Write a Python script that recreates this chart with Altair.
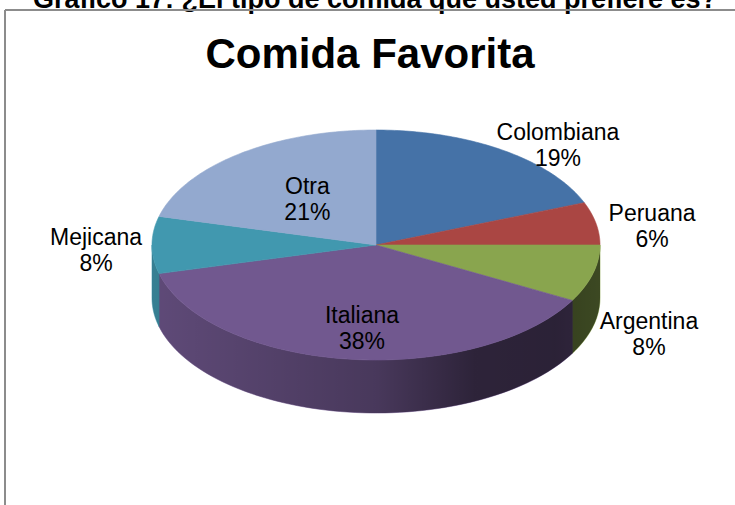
import altair as alt
import pandas as pd

# ---- data ----
categories = ["Colombiana", "Peruana", "Argentina", "Italiana", "Mejicana", "Otra"]
values = [19, 6, 8, 38, 8, 21]
chart_title = ["Comida Favorita"]
caption = ["Gráfico 17: ¿El tipo de comida que usted prefiere es?"]

top_colors = ["#4572A7", "#AA4643", "#89A54E", "#71588F", "#4198AF", "#93A9CF"]

W, H = 735, 505
CX, CY, RX, RY = 376, 245, 224, 115   # ellipse centre / radii in pixels
DEPTH = 53 / RY                        # pie thickness in y units
N = 72                                 # points per arc edge

df = pd.DataFrame({"cat": categories, "value": values, "idx": list(range(len(categories)))})

xs = alt.Scale(domain=[-CX / RX, (W - CX) / RX], nice=False, zero=False)
ys = alt.Scale(domain=[(CY - H) / RY, CY / RY], nice=False, zero=False)
cs = alt.Scale(domain=categories, range=top_colors)

base = (
    alt.Chart(df)
    .transform_window(cum="sum(value)", sort=[alt.SortField("idx")], frame=[None, 0])
    .transform_joinaggregate(total="sum(value)")
    .transform_calculate(
        f0="(datum.cum - datum.value) / datum.total",
        f1="datum.cum / datum.total",
    )
)

# side walls (front half only)
side = (
    base.transform_calculate(g0="max(datum.f0, 0.25)", g1="min(datum.f1, 0.75)")
    .transform_filter("datum.g1 > datum.g0")
    .transform_calculate(k=f"sequence(0, {N + 1})")
    .transform_flatten(["k"])
    .transform_calculate(
        th=f"2 * PI * (datum.g0 + (datum.g1 - datum.g0) * datum.k / {N})",
    )
    .transform_calculate(
        px="sin(datum.th)",
        ytop="cos(datum.th)",
        ybot=f"cos(datum.th) - {DEPTH}",
    )
    .mark_area(strokeWidth=0.6, interpolate="linear", orient="vertical")
    .encode(
        x=alt.X("px:Q", scale=xs, axis=None),
        y=alt.Y("ytop:Q", scale=ys, axis=None, stack=None),
        y2="ybot:Q",
        color=alt.Color("cat:N", scale=cs, legend=None),
        stroke=alt.Stroke("cat:N", scale=cs, legend=None),
        detail="cat:N",
    )
)

# shading of the side wall
shade = (
    alt.Chart(alt.sequence(0, N + 1, as_="k"))
    .transform_calculate(th=f"2 * PI * (0.25 + 0.5 * datum.k / {N})")
    .transform_calculate(
        px="sin(datum.th)",
        ytop="cos(datum.th)",
        ybot=f"cos(datum.th) - {DEPTH}",
    )
    .mark_area(
        orient="vertical",
        color={
            "gradient": "linear",
            "x1": 0, "x2": 1, "y1": 0, "y2": 0,
            "stops": [
                {"offset": 0, "color": "rgba(0,0,0,0.16)"},
                {"offset": 0.5, "color": "rgba(0,0,0,0.36)"},
                {"offset": 0.72, "color": "rgba(0,0,0,0.6)"},
                {"offset": 0.9, "color": "rgba(0,0,0,0.62)"},
                {"offset": 1, "color": "rgba(0,0,0,0.56)"},
            ],
        },
    )
    .encode(
        x=alt.X("px:Q", scale=xs, axis=None),
        y=alt.Y("ytop:Q", scale=ys, axis=None, stack=None),
        y2="ybot:Q",
    )
)

# top face slices
top = (
    base.transform_calculate(k=f"sequence(0, {N + 2})")
    .transform_flatten(["k"])
    .transform_calculate(
        th=f"2 * PI * (datum.f0 + (datum.f1 - datum.f0) * max(0, datum.k - 1) / {N})",
    )
    .transform_calculate(
        px="datum.k == 0 ? 0 : sin(datum.th)",
        py="datum.k == 0 ? 0 : cos(datum.th)",
    )
    .mark_line(filled=True, interpolate="linear-closed", strokeWidth=0.6)
    .encode(
        x=alt.X("px:Q", scale=xs, axis=None),
        y=alt.Y("py:Q", scale=ys, axis=None),
        color=alt.Color("cat:N", scale=cs, legend=None),
        stroke=alt.Stroke("cat:N", scale=cs, legend=None),
        detail="cat:N",
        order="k:Q",
    )
)

# data labels
labels = (
    base.transform_calculate(
        th="PI * (datum.f0 + datum.f1)",
        inside="datum.value >= 20",
        label="datum.cat + '\\n' + datum.value + '%'",
    )
    .transform_calculate(
        lx="datum.inside ? 0.5 * sin(datum.th) : sin(datum.th) + 0.25 * (sin(datum.th) < 0 ? -1 : 1)",
        ly=f"datum.inside ? 0.5 * cos(datum.th) - (cos(datum.th) < -0.05 ? 0.5 * {DEPTH} : 0) "
           f": 1.1 * cos(datum.th) - 0.05 - (cos(datum.th) < -0.05 ? {DEPTH} : 0)",
    )
    .mark_text(
        font="Liberation Sans", fontSize=23, lineBreak="\n", lineHeight=26,
        align="center", baseline="middle", color="#000000", dy=-13,
    )
    .encode(
        x=alt.X("lx:Q", scale=xs, axis=None),
        y=alt.Y("ly:Q", scale=ys, axis=None),
        text="label:N",
    )
)

title = (
    alt.Chart(pd.DataFrame({"t": chart_title}))
    .mark_text(font="Liberation Sans", fontSize=42, fontWeight="bold",
               align="center", baseline="alphabetic", color="#000000")
    .encode(x=alt.value(370), y=alt.value(68), text="t:N")
)

cap = (
    alt.Chart(pd.DataFrame({"t": caption}))
    .mark_text(font="Liberation Sans", fontSize=27, fontWeight="bold",
               align="center", baseline="alphabetic", color="#000000")
    .encode(x=alt.value(375), y=alt.value(8), text="t:N")
)

frame_df = pd.DataFrame({"a": [0]})
vline = alt.Chart(frame_df).mark_rule(color="#8c8c8c", strokeWidth=2).encode(
    x=alt.value(5), y=alt.value(10), y2=alt.value(H)
)
hline = alt.Chart(frame_df).mark_rule(color="#8c8c8c", strokeWidth=2).encode(
    x=alt.value(5), x2=alt.value(W), y=alt.value(10)
)

chart = (
    alt.layer(side, shade, top, labels, title, cap, vline, hline)
    .resolve_scale(color="shared")
    .properties(width=W, height=H, padding=0, autosize=alt.AutoSizeParams(type="none"),
                background="#ffffff")
    .configure_view(stroke=None)
)

chart.save("out.html", embed_options={"renderer": "svg", "actions": False})
